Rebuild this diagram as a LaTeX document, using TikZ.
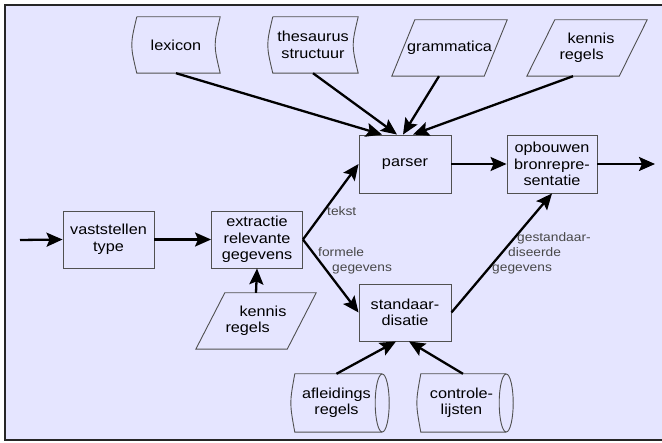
\documentclass[tikz,border=0pt]{standalone}
\usepackage{fontspec}
\setmainfont{Liberation Sans}[FakeStretch=1.12]
\usetikzlibrary{arrows.meta,calc}

\definecolor{paper}{RGB}{229,229,255}
\definecolor{edge}{RGB}{80,80,80}
\definecolor{notegray}{RGB}{72,72,72}

% outline of a stored-data symbol: convex left side, concave right side
\newcommand{\storedoutline}[1]{%
  \draw[rim] ($(#1.north west)+(5pt,0pt)$) -- (#1.north east)
    .. controls ($(#1.east)+(-6.7pt,0pt)$) .. (#1.south east)
    -- ($(#1.south west)+(5pt,0pt)$)
    .. controls ($(#1.west)+(-1.7pt,0pt)$) .. ($(#1.north west)+(5pt,0pt)$);}

% outline of a parallelogram leaning to the right by #2
\newcommand{\slantoutline}[2]{%
  \draw[rim] ($(#1.north west)+(#2,0pt)$) -- (#1.north east)
    -- ($(#1.south east)-(#2,0pt)$) -- (#1.south west) -- cycle;}

% outline of a horizontal drum (direct access storage)
\newcommand{\drumoutline}[1]{%
  \draw[rim] (#1.north east) -- ($(#1.north west)+(4pt,0pt)$)
    .. controls ($(#1.west)+(-1.3pt,0pt)$) .. ($(#1.south west)+(4pt,0pt)$)
    -- (#1.south east);
  \draw[rim] (#1.east) ellipse [x radius=7pt, y radius=29pt];}

\begin{document}
\begin{tikzpicture}[x=1pt,y=-1pt,
  every node/.style={font=\fontsize{14.5}{16.5}\selectfont, inner sep=0pt},
  box/.style={draw=edge, line width=0.9pt, minimum width=91pt,
              minimum height=57pt, align=center},
  shell/.style={minimum height=#1, align=center},
  shell/.default=56pt,
  rim/.style={draw=edge, line width=0.9pt},
  flow/.style={line width=2.3pt, draw=black,
               -{Stealth[length=16pt,width=14pt,inset=3pt]}},
  notelabel/.style={text=notegray, font=\fontsize{12.3}{15}\selectfont,
                    align=left, anchor=west}]

  \useasboundingbox (0,0) rectangle (662,443);
  \fill[paper] (5,5) rectangle (662,440);
  \draw[line width=1.5pt, black!85] (662,5) -- (5,5) -- (5,440) -- (662,440);

  % process steps
  \node[box] (vast) at (108.5,239.5) {vaststellen\\type};
  \node[box] (extr) at (257,239.5) {extractie\\relevante\\gegevens};
  \node[box, minimum width=92pt, minimum height=58pt] (pars) at (405,164) {parser};
  \node[box, minimum width=90pt, minimum height=58pt] (opb) at (552,164) {opbouwen\\bronrepre-\\sentatie};
  \node[box, minimum width=92pt] (std) at (405,312.5) {standaar-\\disatie};

  % stored data
  \node[shell, minimum width=88pt] (lex) at (176,45) {lexicon};
  \node[shell, minimum width=90pt] (thes) at (313,45) {thesaurus\\structuur};
  \storedoutline{lex}
  \storedoutline{thes}

  % rule sets
  \node[shell, minimum width=115pt] (gram) at (449.5,48) {grammatica};
  \node[shell, minimum width=120pt, align=left] (kr1) at (587,48) {\hspace*{8pt}kennis\\regels};
  \node[shell, minimum width=120pt, align=left] (kr2) at (256,321) {\hspace*{14pt}kennis\\regels};
  \slantoutline{gram}{23pt}
  \slantoutline{kr1}{28pt}
  \slantoutline{kr2}{29pt}

  % drums
  \node[shell=58pt, minimum width=91pt] (afl) at (336.5,403) {afleidings\\regels};
  \node[shell=58pt, minimum width=89pt] (ctl) at (461.5,403) {controle-\\lijsten};
  \drumoutline{afl}
  \drumoutline{ctl}

  % free ends
  \coordinate (src) at (20,240);
  \coordinate (sink) at (655,164);

  % connectors
  \draw[flow] (src) -- (vast.west);
  \draw[flow] (vast.east) -- (extr.west);
  \draw[flow] (extr.east) -- (pars.west);
  \draw[flow] (extr.east) -- (std.west);
  \draw[flow] (pars.east) -- (opb.west);
  \draw[flow] (opb.east) -- (sink);
  \draw[flow] (std.east) -- (opb.south);
  \draw[flow] (lex.south) -- ([xshift=-23pt]pars.north);
  \draw[flow] (thes.south) -- ([xshift=-8pt]pars.north);
  \draw[flow] ([xshift=-10.5pt]gram.south) -- ([xshift=-2pt]pars.north);
  \draw[flow] ([xshift=-14pt]kr1.south) -- ([xshift=8pt]pars.north);
  \draw[flow] (kr2.north) -- (extr.south);
  \draw[flow] (afl.north) -- ([xshift=-9pt]std.south);
  \draw[flow] ([xshift=1.5pt]ctl.north) -- ([xshift=4pt]std.south);

  % connector labels
  \node[notelabel] (lbtekst) at (327,211) {tekst};
  \node[notelabel] (lbform) at (318,261) {formele\\\hspace*{14pt}gegevens};
  \node[notelabel] (lbstd) at (492,253) {\hspace*{25pt}gestandaar-\\\hspace*{16pt}diseerde\\gegevens};
\end{tikzpicture}
\end{document}
